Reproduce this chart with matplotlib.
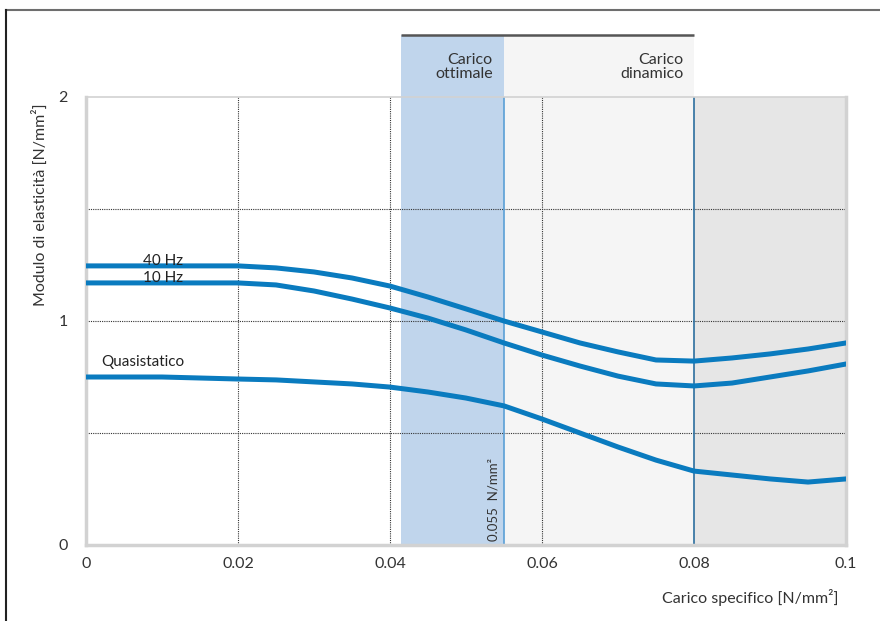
import matplotlib.pyplot as plt
from matplotlib.lines import Line2D

plt.rcParams['font.family'] = ['Lato', 'DejaVu Sans']

# load [N/mm2]
carico = [0, 0.01, 0.02, 0.025, 0.03, 0.035, 0.04, 0.045, 0.05, 0.055,
          0.06, 0.065, 0.07, 0.075, 0.08, 0.085, 0.09, 0.095, 0.1]

# elastic modulus [N/mm2]
hz40 = [1.246, 1.246, 1.246, 1.237, 1.219, 1.192, 1.156, 1.107, 1.054, 1.0,
        0.951, 0.902, 0.862, 0.826, 0.821, 0.835, 0.853, 0.875, 0.902]
hz10 = [1.170, 1.170, 1.170, 1.161, 1.134, 1.098, 1.058, 1.013, 0.960, 0.902,
        0.848, 0.799, 0.754, 0.719, 0.710, 0.723, 0.750, 0.777, 0.808]
quasi = [0.750, 0.750, 0.741, 0.737, 0.728, 0.719, 0.705, 0.683, 0.656, 0.621,
         0.5625, 0.500, 0.4375, 0.379, 0.330, 0.3125, 0.295, 0.281, 0.295]

ottimale = (0.0415, 0.055)
dinamico = (0.055, 0.08)

blue = '#0a7bbf'

fig = plt.figure(figsize=(8.8, 6.21), dpi=100)
ax = fig.add_axes([86/880, 76/621, 760/880, 448/621])

# frame of the page
fig.add_artist(Line2D([6/880, 1], [1 - 10/621, 1 - 10/621], color='#6e6e6e', lw=1.5))
fig.add_artist(Line2D([6/880, 6/880], [0, 1 - 10/621], color='#222222', lw=1.5))

# background zones
top = (545 - 35) / 448
ax.axvspan(ottimale[0], ottimale[1], ymin=0, ymax=top, color='#c0d5ec', lw=0, clip_on=False, zorder=0)
ax.axvspan(dinamico[0], dinamico[1], ymin=0, ymax=top, color='#f5f5f5', lw=0, clip_on=False, zorder=0)
ax.axvspan(dinamico[1], 0.1, color='#e6e6e6', lw=0, zorder=0)
ax.plot([ottimale[0], dinamico[1]], [2 * top, 2 * top], color='#555555', lw=1.8, clip_on=False,
        solid_capstyle='butt')

ax.text(0.0535, 2.134, 'Carico\nottimale', ha='right', va='center', fontsize=11.5,
        color='#333333', linespacing=0.95)
ax.text(0.0786, 2.134, 'Carico\ndinamico', ha='right', va='center', fontsize=11.5,
        color='#333333', linespacing=0.95)

# grid
for gx in [0.02, 0.04, 0.06]:
    ax.axvline(gx, color='#333333', lw=0.8, ls=(0, (1, 1)), zorder=1)
for gy in [0.5, 1.0, 1.5]:
    ax.axhline(gy, color='#333333', lw=0.8, ls=(0, (1, 1)), zorder=1)
ax.axvline(0.055, color='#5a9fd6', lw=1.2, zorder=1)
ax.axvline(0.08, color='#2c6f9f', lw=1.2, zorder=1)

# curves
ax.plot(carico, hz40, color=blue, lw=3.6, zorder=3)
ax.plot(carico, hz10, color=blue, lw=3.6, zorder=3)
ax.plot(carico, quasi, color=blue, lw=3.6, zorder=3)

ax.text(0.0128, 1.27, '40 Hz', ha='right', va='center', fontsize=11, color='#222222')
ax.text(0.0128, 1.19, '10 Hz', ha='right', va='center', fontsize=11, color='#222222')
ax.text(0.002, 0.816, 'Quasistatico', ha='left', va='center', fontsize=11, color='#222222')
ax.text(0.0536, 0.02, '0.055  N/mm²', rotation=90, ha='center', va='bottom', fontsize=9.5,
        color='#333333')

ax.set_xlim(0, 0.1)
ax.set_ylim(0, 2)
ax.set_xticks([0, 0.02, 0.04, 0.06, 0.08, 0.1])
ax.set_xticklabels(['0', '0.02', '0.04', '0.06', '0.08', '0.1'])
ax.set_yticks([0, 1, 2])
ax.set_yticklabels(['0', '1', '2'])
ax.tick_params(length=0, labelsize=11.5, colors='#333333')
ax.tick_params(axis='x', pad=9)
ax.tick_params(axis='y', pad=13)
for s in ax.spines.values():
    s.set_color('#d2d2d2')
    s.set_linewidth(2.5)
ax.spines['top'].set_linewidth(1.2)

ax.set_facecolor('white')
fig.text(838/880, 1 - 597/621, 'Carico specifico [N/mm²]', ha='right', va='center',
         fontsize=11.5, color='#333333')
fig.text(40/880, 1 - 205/621, 'Modulo di elasticità [N/mm²]', rotation=90, ha='center',
         va='center', fontsize=11.5, color='#333333')

fig.savefig('out.png', dpi=100)
